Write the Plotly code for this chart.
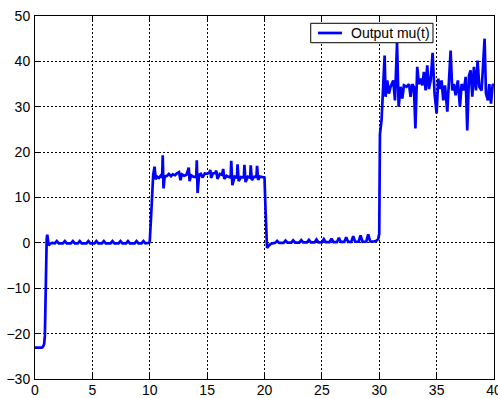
import numpy as np
import plotly.graph_objects as go

# Controller output mu(t): initial transient and regulation around 0
t_phase0 = [0.0, 0.6, 0.72, 0.8, 0.86, 0.9, 0.96, 1.02, 1.07, 1.13, 1.2, 1.3, 1.5,
            1.73, 1.9, 2.07, 2.43, 2.6, 2.77, 3.13, 3.3, 3.47, 3.73, 3.9, 4.07,
            4.48, 4.65, 4.82, 5.18, 5.35, 5.52, 5.83, 6.0, 6.17, 6.58, 6.75, 6.92,
            7.28, 7.45, 7.62, 7.93, 8.1, 8.27, 8.68, 8.85, 9.02, 9.28, 9.45, 9.62, 9.95]
mu_phase0 = [-23.1, -23.1, -22.8, -22.2, -20.5, -14.0, -5.0, 1.0, 1.8, 0.2, -0.6, -0.2, 0.0,
             -0.1, 0.4, -0.1, -0.1, 0.4, -0.1, -0.1, 0.4, -0.1, -0.1, 0.4, -0.1,
             -0.1, 0.4, -0.1, -0.1, 0.4, -0.1, -0.1, 0.4, -0.1, -0.1, 0.4, -0.1,
             -0.1, 0.4, -0.1, -0.1, 0.4, -0.1, -0.1, 0.4, -0.1, -0.1, 0.4, -0.1, 0.0]

# Step to the first set-point (t = 10 .. 20)
t_phase1 = [10.0, 10.1, 10.2, 10.3, 10.42, 10.52, 10.64, 10.8, 10.95, 11.08, 11.13, 11.2,
            11.3, 11.5, 11.67, 11.85, 12.0, 12.2, 12.35, 12.55, 12.68, 12.8, 13.0, 13.2,
            13.4, 13.47, 13.6, 13.8, 14.05, 14.1, 14.17, 14.3, 14.45, 14.6, 14.8, 15.0,
            15.2, 15.28, 15.35, 15.5, 15.7, 15.8, 15.9, 16.1, 16.3, 16.4, 16.5, 16.7,
            16.9, 17.05, 17.1, 17.2, 17.4, 17.6, 17.65, 17.75, 17.95, 18.2, 18.25, 18.35,
            18.55, 18.75, 18.8, 18.9, 19.1, 19.3, 19.35, 19.45, 19.6, 19.8, 20.0]
mu_phase1 = [0.3, 5.0, 10.0, 15.0, 16.8, 14.0, 14.6, 14.3, 14.8, 14.4, 19.3, 12.0,
             14.6, 14.8, 15.2, 14.7, 15.1, 14.9, 15.3, 15.6, 13.8, 15.1, 14.8, 15.0,
             16.6, 13.6, 14.9, 14.6, 14.5, 18.2, 11.0, 15.0, 15.2, 14.4, 15.3, 15.2,
             15.5, 16.1, 14.3, 15.3, 15.4, 15.9, 14.1, 15.2, 15.0, 16.3, 14.1, 14.8,
             14.5, 14.4, 18.1, 12.7, 14.6, 14.4, 17.3, 13.6, 14.5, 14.4, 17.2, 13.4,
             14.6, 14.4, 17.1, 13.8, 14.6, 14.5, 17.0, 13.9, 14.6, 14.5, 14.4]

# Return to 0 (t = 20 .. 30) with a growing ripple
t_phase2 = [20.08, 20.15, 20.22, 20.35, 20.5, 20.7,
            20.93, 21.1, 21.27, 21.66, 21.83, 22.0, 22.33, 22.5, 22.67, 23.03, 23.2, 23.37,
            23.7, 23.87, 24.04, 24.36, 24.53, 24.7, 25.0, 25.17, 25.34, 25.67, 25.84, 26.01,
            26.31, 26.48, 26.65, 26.95, 27.12, 27.29, 27.56, 27.73, 27.9, 28.2, 28.37, 28.54,
            28.87, 29.04, 29.21, 29.5, 29.7, 29.9, 30.0]
mu_phase2 = [8.0, 0.0, -1.1, -0.7, -0.3, -0.1,
             0.0, 0.45, 0.0, 0.0, 0.5, 0.05, 0.05, 0.55, 0.05, 0.05, 0.6, 0.1,
             0.1, 0.65, 0.1, 0.1, 0.75, 0.1, 0.1, 0.85, 0.15, 0.15, 0.95, 0.15,
             0.15, 1.1, 0.2, 0.2, 1.25, 0.2, 0.2, 1.45, 0.25, 0.25, 1.65, 0.25,
             0.3, 1.85, 0.3, 0.3, 0.4, 0.8, 2.0]

# Step to the second set-point (t = 30 .. 40), noisy output
t_phase3 = [30.02, 30.06, 30.2, 30.33, 30.47, 30.55, 30.7, 30.84, 30.99, 31.22, 31.37,
            31.55, 31.69, 31.86, 32.01, 32.15, 32.38, 32.59, 32.73, 32.88, 33.02, 33.15,
            33.31, 33.46, 33.6, 33.75, 33.89, 34.04, 34.18, 34.33, 34.48, 34.65, 34.82,
            35.0, 35.14, 35.29, 35.43, 35.58, 35.73, 35.93, 36.07, 36.22, 36.36, 36.51,
            36.65, 36.85, 37.03, 37.18, 37.38, 37.53, 37.67, 37.82, 37.96, 38.11, 38.25,
            38.43, 38.57, 38.72, 38.92, 39.18, 39.3, 39.47, 39.59, 39.74, 39.88, 40.0]
mu_phase3 = [10.0, 24.0, 27.0, 33.6, 41.3, 32.2, 35.8, 32.9, 34.4, 35.8, 31.4,
             44.1, 30.0, 34.4, 31.8, 34.7, 34.4, 35.0, 32.2, 35.0, 34.4, 25.2,
             38.8, 35.0, 36.2, 34.7, 37.7, 33.6, 39.1, 33.9, 35.8, 41.9, 32.9,
             28.5, 36.2, 33.9, 35.8, 31.4, 34.7, 28.9, 36.6, 42.4, 33.6, 35.0,
             32.5, 35.8, 30.0, 35.0, 33.6, 36.6, 24.8, 36.9, 38.0, 32.2, 38.8,
             33.6, 40.2, 34.4, 33.6, 45.0, 32.9, 31.4, 35.0, 30.7, 34.7, 35.0]

x_ticks = [0, 5, 10, 15, 20, 25, 30, 35, 40]
y_ticks = [-30, -20, -10, 0, 10, 20, 30, 40, 50]
series_name = "Output mu(t)"

t = np.concatenate([t_phase0, t_phase1, t_phase2, t_phase3])
mu = np.concatenate([mu_phase0, mu_phase1, mu_phase2, mu_phase3])

FONT = "Arial, Liberation Sans, Helvetica, sans-serif"
LINE_COLOR = "#0000ff"

fig = go.Figure()
fig.add_trace(go.Scatter(
    x=t, y=mu, mode="lines", name=series_name, showlegend=False,
    line=dict(color=LINE_COLOR, width=2.7),
))

axis_style = dict(
    showline=True, linecolor="black", linewidth=1, mirror="ticks",
    ticks="inside", ticklen=5, tickwidth=1, tickcolor="black",
    showgrid=True, gridcolor="black", gridwidth=1, griddash="2px,2px",
    zeroline=False, tickfont=dict(family=FONT, size=14, color="black"),
    ticklabeloverflow="allow", automargin=False,
)

fig.update_xaxes(range=[0, 40], tickvals=x_ticks, ticklabelstandoff=-2, **axis_style)
fig.update_yaxes(range=[-30, 50], tickvals=y_ticks, ticklabelstandoff=1, **axis_style)

# MATLAB-style boxed legend in the upper right of the axes
fig.add_shape(type="rect", xref="paper", yref="paper",
              x0=0.6007, x1=0.8671, y0=0.9264, y1=0.9799,
              line=dict(color="black", width=1), fillcolor="white", layer="above")
fig.add_shape(type="line", xref="paper", yref="paper",
              x0=0.6166, x1=0.6688, y0=0.9532, y1=0.9532,
              line=dict(color=LINE_COLOR, width=2.7), layer="above")
fig.add_annotation(xref="paper", yref="paper", x=0.6850, y=0.9532,
                   xanchor="left", yanchor="middle", showarrow=False,
                   text=series_name, font=dict(family=FONT, size=14, color="black"))

fig.update_layout(
    width=498, height=398, autosize=False,
    margin=dict(l=35, r=4, t=16, b=19, autoexpand=False),
    paper_bgcolor="white", plot_bgcolor="white",
    font=dict(family=FONT, size=14, color="black"),
    showlegend=False,
)

fig.write_html("out.html")
